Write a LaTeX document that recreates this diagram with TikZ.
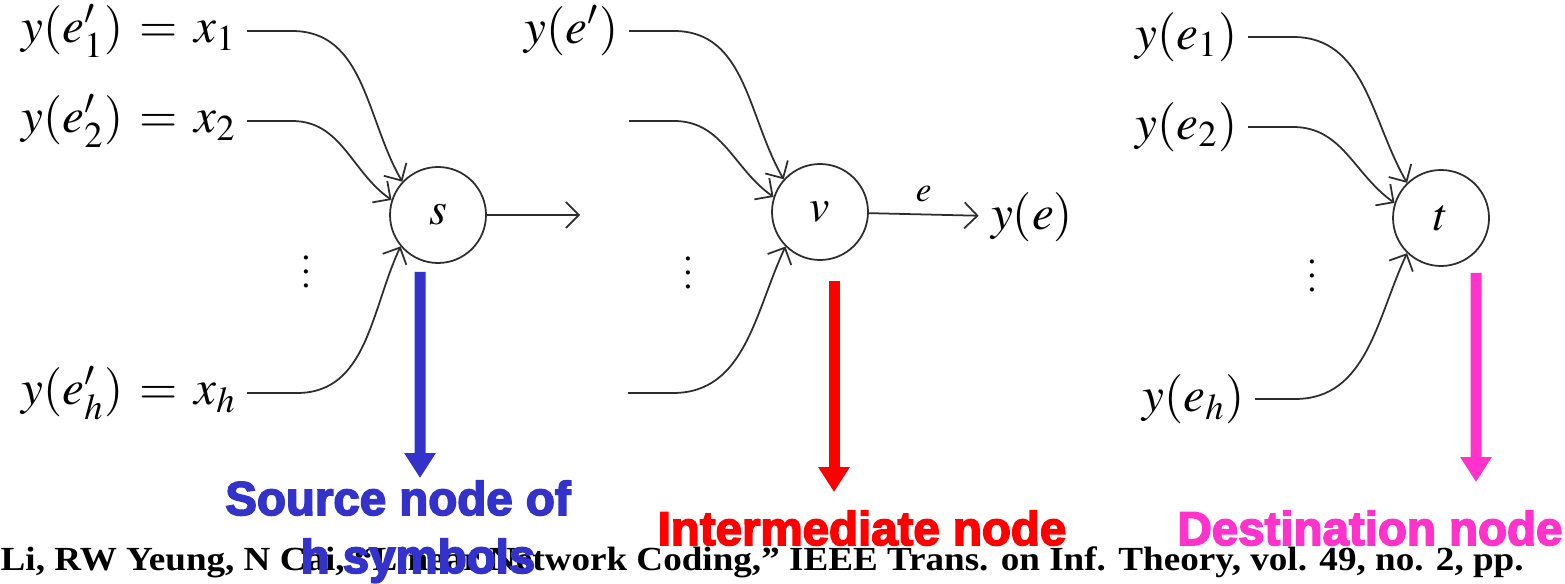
\documentclass[tikz,border=0pt]{standalone}
\usepackage{mathptmx}
\usepackage{fontspec}
\setmainfont{Liberation Serif}
\newfontfamily\tagfont[FakeBold=3.5]{Liberation Sans Bold}
\newfontfamily\citefont[FakeStretch=1.1]{Liberation Serif Bold}
\usepackage{xcolor}
\definecolor{sourceblue}{RGB}{51, 51, 204}
\definecolor{interred}{RGB}{255, 0, 0}
\definecolor{destpink}{RGB}{255, 51, 204}
\definecolor{edgegrey}{RGB}{45, 45, 45}
\usepackage{tikz}
\usetikzlibrary{arrows.meta, positioning, calc}

\tikzset{
  vertex/.style={circle, draw=edgegrey, line width=0.5pt, minimum size=0.96cm, inner sep=0pt, font=\fontsize{13}{15}\selectfont},
  lab/.style={anchor=east, inner xsep=0.1cm, inner ysep=0pt, font=\fontsize{14}{16}\selectfont},
  edge/.style={->, line width=0.5pt, draw=edgegrey},
  bigarrow/.style={-{Triangle[width=0.3cm, length=0.25cm]}, line width=0.11cm},
  tag/.style={anchor=base, inner sep=0pt, font=\tagfont\fontsize{13.5}{15}\selectfont},
}

\begin{document}
\begin{tikzpicture}[>={Straight Barb[length=1.3mm, width=2.6mm]}]
    \useasboundingbox (0,0) rectangle (15.65,5.83);

    % reference line, lies under the coloured tags
    \node[anchor=base west, inner sep=0pt, font=\citefont\fontsize{9.6}{11}\selectfont] (cite) at (0,0.13)
        {Li, RW Yeung, N Cai, “Linear Network Coding,” IEEE Trans. on Inf. Theory, vol. 49, no. 2, pp.};

    % source node
    \node[vertex] (s) at (4.38,3.68) {$s$};
    \node[lab] (a1) at (2.47,5.52) {$y(e'_1) \,=\, x_1$};
    \node[lab] (a2) at (2.47,4.62) {$y(e'_2) \,=\, x_2$};
    \node[lab] (ah) at (2.47,1.90) {$y(e'_h) \,=\, x_h$};
    \node (adots) at (3.06,3.22) {$\vdots$};
    \coordinate (aout) at (5.80,3.68);
    \draw[edge] (a1.east) -- ++(0.45,0) to[out=0, in=120] (s.137);
    \draw[edge] (a2.east) -- ++(0.45,0) to[out=0, in=145] (s.162);
    \draw[edge] (ah.east) -- ++(0.5,0) to[out=0, in=245] (s.220);
    \draw[edge] (s) -- (aout);

    % intermediate node
    \node[vertex] (v) at (8.20,3.71) {$v$};
    \node[lab] (m1) at (6.29,5.52) {$y(e')$};
    \coordinate (m2) at (6.29,4.62);
    \coordinate (mh) at (6.28,1.90);
    \node (mdots) at (6.88,3.21) {$\vdots$};
    \node[anchor=center, font=\fontsize{14}{16}\selectfont] (ye) at (10.32,3.66) {$y(e)$};
    \draw[edge] (m1.east) -- ++(0.45,0) to[out=0, in=120] (v.138);
    \draw[edge] (m2) -- ++(0.45,0) to[out=0, in=145] (v.162);
    \draw[edge] (mh) -- ++(0.45,0) to[out=0, in=245] (v.225);
    \draw[edge] (v) -- (ye) node[midway, above, font=\fontsize{10}{12}\selectfont] {$e$};

    % destination node
    \node[vertex] (t) at (14.41,3.65) {$t$};
    \node[lab] (r1) at (12.48,5.46) {$y(e_1)$};
    \node[lab] (r2) at (12.48,4.56) {$y(e_2)$};
    \node[lab] (rh) at (12.55,1.84) {$y(e_h)$};
    \node (rdots) at (13.12,3.18) {$\vdots$};
    \draw[edge] (r1.east) -- ++(0.45,0) to[out=0, in=120] (t.134);
    \draw[edge] (r2.east) -- ++(0.45,0) to[out=0, in=145] (t.162);
    \draw[edge] (rh.east) -- ++(0.4,0) to[out=0, in=245] (t.226);

    % coloured pointers and tags
    \coordinate (sarr) at (4.20,1.05);
    \coordinate (varr) at (8.34,0.91);
    \coordinate (tarr) at (14.76,1.01);
    \draw[bigarrow, sourceblue] ([xshift=-0.18cm, yshift=-0.08cm]s.south) -- (sarr);
    \draw[bigarrow, interred] ([xshift=0.14cm, yshift=-0.2cm]v.south) -- (varr);
    \draw[bigarrow, destpink] ([xshift=0.35cm, yshift=-0.06cm]t.south) -- (tarr);
    \node[tag, sourceblue] (srctag) at (3.98,0.68) {Source node of};
    \node[tag, sourceblue] (srctag2) at (4.18,0.10) {h symbols};
    \node[tag, interred] (midtag) at (8.62,0.38) {Intermediate node};
    \node[tag, destpink] (dsttag) at (13.70,0.38) {Destination node};
\end{tikzpicture}
\end{document}
